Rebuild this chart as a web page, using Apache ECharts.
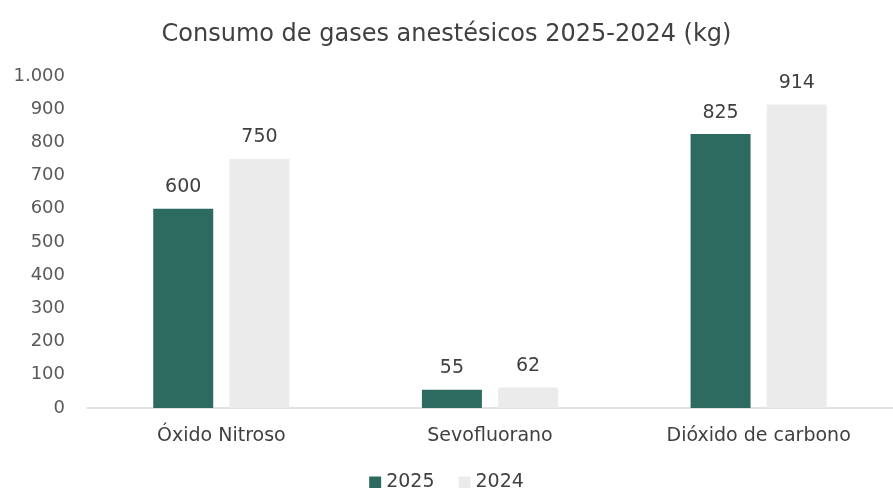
<!DOCTYPE html>
<html>
<head>
<meta charset="utf-8">
<script src="https://cdn.jsdelivr.net/npm/echarts@6/dist/echarts.min.js"></script>
<style>
  html, body { margin: 0; padding: 0; background: #ffffff; }
  #chart { width: 893px; height: 488px; }
</style>
</head>
<body>
<div id="chart"></div>
<script>
// Anesthetic gas consumption by gas, in kg
const categories = ['Óxido Nitroso', 'Sevofluorano', 'Dióxido de carbono'];
const values2025 = [600, 55, 825];
const values2024 = [750, 62, 914];
const yTicks = [0, 100, 200, 300, 400, 500, 600, 700, 800, 900, 1000];

const FONT = 'DejaVu Sans';

function fmtThousands(v) {
  return String(v).replace(/\B(?=(\d{3})+(?!\d))/g, '.');
}

const chart = echarts.init(document.getElementById('chart'), null, { renderer: 'canvas' });

chart.setOption({
  backgroundColor: '#ffffff',
  animation: false,
  title: {
    text: 'Consumo de gases anestésicos 2025-2024 (kg)',
    left: 'center',
    top: 18,
    textStyle: { fontFamily: FONT, fontSize: 24, fontWeight: 'normal', color: '#404040' }
  },
  legend: {
    top: 468,
    left: 'center',
    itemWidth: 12,
    itemHeight: 12,
    itemGap: 24,
    icon: 'rect',
    textStyle: { fontFamily: FONT, fontSize: 19, color: '#404040' },
    data: ['2025', '2024']
  },
  grid: { left: 87, right: 0, top: 76, bottom: 80, containLabel: false },
  xAxis: {
    type: 'category',
    data: categories,
    axisLine: { lineStyle: { color: '#d9d9d9', width: 1.5 } },
    axisTick: { show: false },
    axisLabel: { fontFamily: FONT, fontSize: 19, color: '#404040', margin: 19 }
  },
  yAxis: {
    type: 'value',
    min: yTicks[0],
    max: yTicks[yTicks.length - 1],
    interval: yTicks[1] - yTicks[0],
    splitLine: { show: false },
    axisLine: { show: false },
    axisTick: { show: false },
    axisLabel: {
      fontFamily: FONT, fontSize: 18, color: '#595959', margin: 22,
      formatter: fmtThousands
    }
  },
  series: [
    {
      name: '2025',
      type: 'bar',
      data: values2025,
      barWidth: 60,
      barGap: '27%',
      itemStyle: { color: '#2d6a5f' },
      label: {
        show: true, position: 'top', distance: 12,
        fontFamily: FONT, fontSize: 19, color: '#404040',
        formatter: p => fmtThousands(p.value)
      }
    },
    {
      name: '2024',
      type: 'bar',
      data: values2024,
      barWidth: 60,
      itemStyle: { color: '#ebebeb' },
      label: {
        show: true, position: 'top', distance: 12,
        fontFamily: FONT, fontSize: 19, color: '#404040',
        formatter: p => fmtThousands(p.value)
      }
    }
  ]
});
</script>
</body>
</html>
